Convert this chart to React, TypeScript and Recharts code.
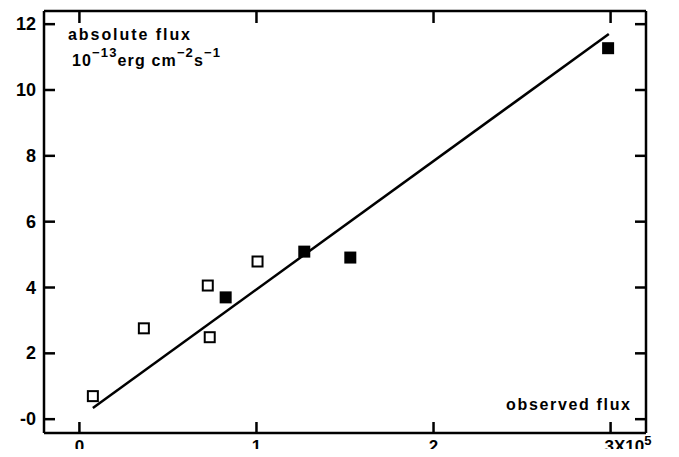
import React from 'react';
import { ScatterChart, Scatter, XAxis, YAxis } from 'recharts';

// observed flux in units of 1e5, absolute flux in 1e-13 erg cm^-2 s^-1
const openPoints = [
  { x: 0.076, y: 0.7 },
  { x: 0.364, y: 2.76 },
  { x: 0.725, y: 4.06 },
  { x: 0.736, y: 2.49 },
  { x: 1.006, y: 4.79 },
];

const filledPoints = [
  { x: 0.826, y: 3.7 },
  { x: 1.27, y: 5.09 },
  { x: 1.53, y: 4.91 },
  { x: 2.986, y: 11.27 },
];

const fitLine = [
  { x: 0.076, y: 0.34 },
  { x: 2.99, y: 11.7 },
];

const xTicks = [0, 1, 2, 3];
const yTicks = [0, 2, 4, 6, 8, 10, 12];
const xDomain = [-0.2, 3.2];
const yDomain = [-0.42, 12.4];

const FONT = '"Liberation Sans", Arial, sans-serif';

const OpenSquare = (props: any) => (
  <rect x={props.cx - 5} y={props.cy - 5} width={10} height={10} fill="#fff" stroke="#000" strokeWidth={2} />
);

const FilledSquare = (props: any) => (
  <rect x={props.cx - 6} y={props.cy - 6} width={12} height={12} fill="#000" />
);

const NoDot = () => <g />;

const BottomTick = ({ x, y, payload }: any) =>
  payload.value === 3 ? (
    <text x={x - 6} y={y + 19} fontFamily={FONT} fontWeight="bold" fontSize={17} fill="#000">
      3X10
      <tspan dy={-7} fontSize={13}>5</tspan>
    </text>
  ) : (
    <text x={x} y={y + 19} textAnchor="middle" fontFamily={FONT} fontWeight="bold" fontSize={17} fill="#000">
      {payload.value}
    </text>
  );

const LeftTick = ({ x, y, payload }: any) => (
  <text x={x - 8} y={y + 6} textAnchor="end" fontFamily={FONT} fontWeight="bold" fontSize={18} fill="#000">
    {payload.value === 0 ? '-0' : payload.value}
  </text>
);

const EmptyTick = () => <g />;

const axisLine = { stroke: '#000', strokeWidth: 2.5 };
const tickLine = { stroke: '#000', strokeWidth: 2.5 };

export default function App() {
  return (
    <div style={{ margin: -8, width: 679, height: 457, background: '#fff' }}>
      <ScatterChart width={679} height={457} margin={{ top: 10, right: 32, left: 0, bottom: 0 }}>
        <XAxis
          type="number"
          dataKey="x"
          domain={xDomain}
          ticks={xTicks}
          allowDataOverflow
          height={24}
          tickSize={-11}
          tickMargin={11}
          tickLine={tickLine}
          axisLine={axisLine}
          tick={<BottomTick />}
        />
        <XAxis
          xAxisId="top"
          orientation="top"
          type="number"
          dataKey="x"
          domain={xDomain}
          ticks={xTicks}
          allowDataOverflow
          height={1}
          tickSize={-12}
          tickMargin={12}
          tickLine={tickLine}
          axisLine={axisLine}
          tick={<EmptyTick />}
        />
        <YAxis
          type="number"
          dataKey="y"
          domain={yDomain}
          ticks={yTicks}
          allowDataOverflow
          width={44}
          tickSize={-11}
          tickMargin={11}
          tickLine={tickLine}
          axisLine={axisLine}
          tick={<LeftTick />}
        />
        <YAxis
          yAxisId="right"
          orientation="right"
          type="number"
          dataKey="y"
          domain={yDomain}
          ticks={yTicks}
          allowDataOverflow
          width={1}
          tickSize={-11}
          tickMargin={11}
          tickLine={tickLine}
          axisLine={axisLine}
          tick={<EmptyTick />}
        />
        <Scatter
          data={fitLine}
          xAxisId="top"
          yAxisId="right"
          line={{ stroke: '#000', strokeWidth: 2.5 }}
          lineType="joint"
          shape={<NoDot />}
          isAnimationActive={false}
        />
        <Scatter data={openPoints} shape={<OpenSquare />} isAnimationActive={false} />
        <Scatter data={filledPoints} shape={<FilledSquare />} isAnimationActive={false} />
        <text x={68} y={40} fontFamily={FONT} fontWeight="bold" fontSize={16} fill="#000" textLength={122} lengthAdjust="spacing">
          absolute flux
        </text>
        <text x={72} y={66} fontFamily={FONT} fontWeight="bold" fontSize={16} fill="#000" textLength={148} lengthAdjust="spacing">
          10
          <tspan dy={-9} fontSize={13}>−13</tspan>
          <tspan dy={9}>erg cm</tspan>
          <tspan dy={-9} fontSize={13}>−2</tspan>
          <tspan dy={9}>s</tspan>
          <tspan dy={-9} fontSize={13}>−1</tspan>
        </text>
        <text x={506} y={410} fontFamily={FONT} fontWeight="bold" fontSize={16} fill="#000" textLength={124} lengthAdjust="spacing">
          observed flux
        </text>
      </ScatterChart>
    </div>
  );
}
